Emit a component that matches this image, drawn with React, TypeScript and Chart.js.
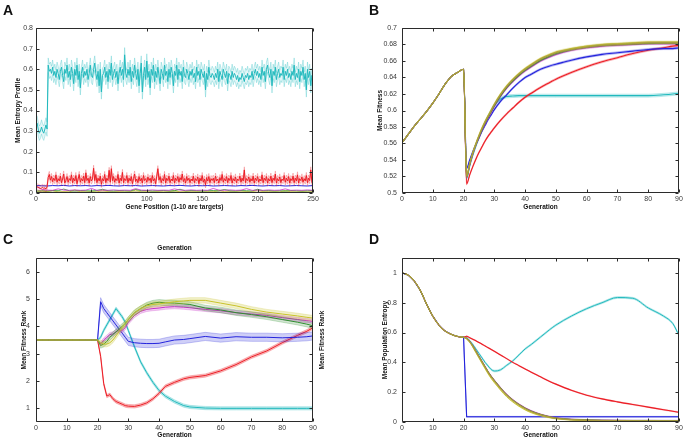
import React, { useEffect, useRef } from 'react';
import { Chart, registerables } from 'chart.js';

Chart.register(...registerables);

const FONT = "'Liberation Sans', Arial, Helvetica, sans-serif";
const TICK_COLOR = '#3a3a3a';
const TITLE_COLOR = '#111111';

const CYAN = '#21b9bd';
const RED = '#ec1d25';
const BLUE = '#2323dc';
const GREEN = '#2f8f2f';
const MAGENTA = '#c832c8';
const YELLOW = '#c8c22c';
const OLIVE = '#a89a40';

// ---------------- Panel A: entropy profile by gene position ----------------
const genePositions = Array.from({ length: 250 }, (_, i) => i + 1);
const lowGenePositions = [1, 5, 10, 15, 20, 25, 30, 35, 40, 45, 50, 55, 60, 65, 70, 75, 80, 85, 90, 95, 100,
  105, 110, 115, 120, 125, 130, 135, 140, 145, 150, 155, 160, 165, 170, 175, 180, 185, 190, 195, 200,
  205, 210, 215, 220, 225, 230, 235, 240, 245, 250];

const entropyCyan = [
  0.34, 0.31, 0.29, 0.30, 0.32, 0.30, 0.29, 0.31, 0.33, 0.31,
  0.62, 0.59, 0.60, 0.58, 0.61, 0.57, 0.59, 0.56, 0.60, 0.58,
  0.55, 0.59, 0.61, 0.57, 0.54, 0.60, 0.58, 0.62, 0.56, 0.59,
  0.55, 0.61, 0.58, 0.53, 0.60, 0.57, 0.62, 0.55, 0.59, 0.51,
  0.58, 0.61, 0.56, 0.59, 0.57, 0.60, 0.55, 0.58, 0.62, 0.57,
  0.56, 0.60, 0.63, 0.58, 0.55, 0.59, 0.52, 0.60, 0.49, 0.57,
  0.58, 0.61, 0.56, 0.59, 0.54, 0.60, 0.57, 0.63, 0.55, 0.58,
  0.60, 0.56, 0.59, 0.53, 0.58, 0.61, 0.57, 0.60, 0.55, 0.67,
  0.58, 0.56, 0.60, 0.57, 0.61, 0.54, 0.59, 0.56, 0.62, 0.58,
  0.55, 0.60, 0.52, 0.58, 0.63, 0.49, 0.57, 0.61, 0.55, 0.64,
  0.56, 0.59, 0.51, 0.60, 0.57, 0.62, 0.54, 0.59, 0.56, 0.61,
  0.57, 0.53, 0.60, 0.58, 0.55, 0.62, 0.57, 0.59, 0.54, 0.60,
  0.56, 0.61, 0.58, 0.52, 0.59, 0.57, 0.62, 0.55, 0.60, 0.57,
  0.59, 0.54, 0.61, 0.57, 0.56, 0.60, 0.58, 0.55, 0.59, 0.57,
  0.60, 0.56, 0.58, 0.54, 0.61, 0.57, 0.59, 0.55, 0.60, 0.58,
  0.56, 0.59, 0.50, 0.58, 0.55, 0.61, 0.57, 0.56, 0.58, 0.57,
  0.55, 0.58, 0.56, 0.60, 0.54, 0.59, 0.57, 0.55, 0.60, 0.58,
  0.56, 0.59, 0.53, 0.58, 0.57, 0.55, 0.59, 0.56, 0.58, 0.57,
  0.55, 0.57, 0.54, 0.56, 0.55, 0.58, 0.56, 0.54, 0.57, 0.56,
  0.58, 0.55, 0.57, 0.56, 0.59, 0.55, 0.58, 0.60, 0.57, 0.59,
  0.56, 0.58, 0.55, 0.61, 0.57, 0.59, 0.54, 0.60, 0.62, 0.58,
  0.56, 0.60, 0.52, 0.59, 0.57, 0.61, 0.55, 0.58, 0.60, 0.56,
  0.58, 0.57, 0.61, 0.55, 0.59, 0.57, 0.60, 0.56, 0.58, 0.55,
  0.59, 0.57, 0.62, 0.55, 0.58, 0.56, 0.60, 0.54, 0.59, 0.57,
  0.61, 0.55, 0.58, 0.50, 0.60, 0.56, 0.59, 0.52, 0.57, 0.55,
];

const entropyRed = [
  0.030, 0.028, 0.025, 0.022, 0.024, 0.028, 0.022, 0.025, 0.020, 0.030,
  0.075, 0.090, 0.062, 0.080, 0.055, 0.072, 0.060, 0.088, 0.052, 0.070,
  0.058, 0.082, 0.050, 0.068, 0.092, 0.048, 0.062, 0.080, 0.052, 0.070,
  0.060, 0.088, 0.050, 0.072, 0.058, 0.085, 0.045, 0.068, 0.090, 0.052,
  0.070, 0.058, 0.082, 0.050, 0.098, 0.060, 0.072, 0.048, 0.080, 0.058,
  0.068, 0.120, 0.060, 0.090, 0.050, 0.072, 0.058, 0.082, 0.042, 0.070,
  0.058, 0.090, 0.050, 0.072, 0.060, 0.110, 0.052, 0.118, 0.060, 0.080,
  0.052, 0.070, 0.060, 0.090, 0.048, 0.072, 0.058, 0.100, 0.050, 0.070,
  0.060, 0.085, 0.050, 0.072, 0.058, 0.080, 0.045, 0.070, 0.092, 0.055,
  0.068, 0.050, 0.080, 0.058, 0.072, 0.048, 0.085, 0.060, 0.070, 0.052,
  0.078, 0.060, 0.072, 0.050, 0.085, 0.058, 0.070, 0.045, 0.082, 0.118,
  0.062, 0.080, 0.050, 0.070, 0.058, 0.090, 0.048, 0.072, 0.060, 0.082,
  0.050, 0.068, 0.058, 0.085, 0.048, 0.072, 0.060, 0.080, 0.052, 0.075,
  0.062, 0.092, 0.055, 0.070, 0.048, 0.080, 0.060, 0.072, 0.050, 0.068,
  0.058, 0.082, 0.050, 0.070, 0.060, 0.078, 0.045, 0.072, 0.058, 0.085,
  0.052, 0.068, 0.040, 0.075, 0.058, 0.080, 0.050, 0.070, 0.060, 0.072,
  0.050, 0.082, 0.058, 0.068, 0.048, 0.075, 0.060, 0.090, 0.052, 0.070,
  0.058, 0.080, 0.050, 0.072, 0.060, 0.085, 0.048, 0.070, 0.058, 0.078,
  0.050, 0.068, 0.060, 0.082, 0.052, 0.072, 0.058, 0.112, 0.050, 0.070,
  0.060, 0.078, 0.052, 0.070, 0.058, 0.082, 0.048, 0.072, 0.060, 0.080,
  0.052, 0.068, 0.058, 0.088, 0.050, 0.072, 0.060, 0.080, 0.048, 0.070,
  0.058, 0.082, 0.050, 0.072, 0.060, 0.092, 0.048, 0.070, 0.058, 0.078,
  0.050, 0.068, 0.060, 0.085, 0.052, 0.072, 0.058, 0.080, 0.048, 0.070,
  0.060, 0.082, 0.050, 0.072, 0.058, 0.088, 0.048, 0.070, 0.060, 0.078,
  0.052, 0.070, 0.058, 0.085, 0.050, 0.072, 0.060, 0.112, 0.052, 0.040,
];

const entropyBlue = [
  0.036, 0.035, 0.034, 0.036, 0.035, 0.037, 0.034, 0.036, 0.035, 0.036,
  0.034, 0.036, 0.035, 0.037, 0.035, 0.034, 0.036, 0.035, 0.036, 0.034,
  0.035, 0.036, 0.035, 0.034, 0.036, 0.035, 0.037, 0.035, 0.034, 0.036,
  0.035, 0.036, 0.034, 0.035, 0.036, 0.035, 0.034, 0.036, 0.035, 0.037,
  0.035, 0.034, 0.036, 0.035, 0.036, 0.034, 0.035, 0.036, 0.035, 0.034,
  0.036,
];
const entropyMagenta = [
  0.030, 0.018, 0.014, 0.013, 0.020, 0.014, 0.013, 0.015, 0.013, 0.014,
  0.022, 0.013, 0.014, 0.013, 0.015, 0.013, 0.014, 0.013, 0.021, 0.014,
  0.013, 0.015, 0.013, 0.014, 0.013, 0.020, 0.014, 0.013, 0.015, 0.013,
  0.014, 0.013, 0.022, 0.014, 0.013, 0.015, 0.013, 0.014, 0.021, 0.013,
  0.014, 0.013, 0.015, 0.013, 0.014, 0.020, 0.013, 0.014, 0.013, 0.015,
  0.013,
];
const entropyGreen = [
  0.010, 0.011, 0.010, 0.012, 0.011, 0.019, 0.011, 0.010, 0.012, 0.011,
  0.010, 0.012, 0.018, 0.011, 0.010, 0.012, 0.011, 0.010, 0.017, 0.011,
  0.012, 0.010, 0.011, 0.012, 0.010, 0.011, 0.018, 0.010, 0.012, 0.011,
  0.010, 0.011, 0.012, 0.010, 0.017, 0.011, 0.010, 0.012, 0.011, 0.010,
  0.018, 0.011, 0.012, 0.010, 0.011, 0.010, 0.012, 0.011, 0.010, 0.011,
  0.012,
];
const entropyYellow = [
  0.006, 0.005, 0.006, 0.012, 0.005, 0.006, 0.005, 0.015, 0.006, 0.005,
  0.006, 0.005, 0.013, 0.006, 0.005, 0.006, 0.005, 0.006, 0.014, 0.005,
  0.006, 0.005, 0.006, 0.005, 0.006, 0.012, 0.005, 0.006, 0.005, 0.006,
  0.005, 0.006, 0.005, 0.013, 0.006, 0.005, 0.006, 0.005, 0.006, 0.005,
  0.014, 0.006, 0.005, 0.006, 0.005, 0.012, 0.006, 0.005, 0.006, 0.005,
  0.006,
];
const entropyOlive = [
  0.004, 0.004, 0.005, 0.004, 0.004, 0.005, 0.004, 0.004, 0.005, 0.004,
  0.004, 0.004, 0.005, 0.004, 0.004, 0.005, 0.004, 0.004, 0.005, 0.004,
  0.004, 0.004, 0.005, 0.004, 0.004, 0.005, 0.004, 0.004, 0.005, 0.004,
  0.004, 0.004, 0.005, 0.004, 0.004, 0.005, 0.004, 0.004, 0.005, 0.004,
  0.004, 0.004, 0.005, 0.004, 0.004, 0.005, 0.004, 0.004, 0.005, 0.004,
  0.004,
];
const entropyBandCyan = 0.035;
const entropyBandRed = 0.015;

const geneTicks = [0, 50, 100, 150, 200, 250];
const entropyTicks = [0, 0.1, 0.2, 0.3, 0.4, 0.5, 0.6, 0.7, 0.8];

// ---------------- Generations (panels B, C, D) ----------------
const generations = [0, 2, 4, 6, 8, 10, 12, 14, 16, 18, 20,
  21, 22, 23, 24, 25, 26, 27, 28, 29, 30, 32, 34, 36, 38, 40, 42, 45, 48, 50,
  55, 60, 65, 70, 75, 80, 85, 88, 90];
const generationTicks = [0, 10, 20, 30, 40, 50, 60, 70, 80, 90];
const bandStartGeneration = 20;

// ---------------- Panel B: mean fitness ----------------
const fitnessEarly = [0.561, 0.571, 0.581, 0.590, 0.599, 0.609, 0.620, 0.632, 0.641, 0.646, 0.650];
const fitnessCyanLate = [0.518, 0.533, 0.546, 0.557, 0.567, 0.576, 0.585, 0.593, 0.600, 0.606, 0.614, 0.617, 0.6175, 0.618, 0.618, 0.618, 0.618, 0.618, 0.618, 0.618, 0.618, 0.618, 0.618, 0.618, 0.618, 0.619, 0.620, 0.621];
const fitnessRedLate = [0.511, 0.522, 0.532, 0.541, 0.549, 0.556, 0.563, 0.569, 0.574, 0.579, 0.588, 0.596, 0.603, 0.610, 0.616, 0.621, 0.628, 0.634, 0.638, 0.646, 0.653, 0.659, 0.664, 0.669, 0.673, 0.676, 0.678, 0.679];
const fitnessBlueLate = [0.530, 0.540, 0.550, 0.559, 0.567, 0.575, 0.582, 0.589, 0.595, 0.601, 0.611, 0.619, 0.627, 0.634, 0.640, 0.644, 0.650, 0.654, 0.656, 0.661, 0.665, 0.668, 0.670, 0.672, 0.674, 0.675, 0.675, 0.676];
const fitnessMagentaLate = [0.519, 0.534, 0.547, 0.558, 0.567, 0.576, 0.584, 0.591, 0.598, 0.605, 0.617, 0.627, 0.635, 0.642, 0.648, 0.653, 0.660, 0.665, 0.668, 0.673, 0.676, 0.678, 0.679, 0.680, 0.681, 0.681, 0.681, 0.681];
const fitnessGreenLate = [0.520, 0.535, 0.548, 0.559, 0.568, 0.577, 0.585, 0.592, 0.599, 0.606, 0.618, 0.628, 0.636, 0.643, 0.649, 0.654, 0.661, 0.666, 0.669, 0.674, 0.677, 0.679, 0.680, 0.681, 0.6815, 0.682, 0.682, 0.682];
const fitnessYellowLate = [0.521, 0.536, 0.549, 0.560, 0.570, 0.579, 0.587, 0.594, 0.601, 0.608, 0.620, 0.630, 0.638, 0.645, 0.651, 0.656, 0.663, 0.668, 0.671, 0.675, 0.678, 0.680, 0.681, 0.682, 0.683, 0.683, 0.683, 0.683];
const fitnessOliveLate = [0.520, 0.535, 0.548, 0.559, 0.569, 0.578, 0.586, 0.593, 0.600, 0.607, 0.619, 0.629, 0.637, 0.644, 0.650, 0.655, 0.662, 0.667, 0.670, 0.674, 0.677, 0.679, 0.680, 0.681, 0.682, 0.682, 0.682, 0.682];
const fitnessBand = 0.0012;
const fitnessTicks = [0.5, 0.52, 0.54, 0.56, 0.58, 0.6, 0.62, 0.64, 0.66, 0.68, 0.7];

// ---------------- Panel C: mean fitness rank ----------------
const rankEarly = [3.5, 3.5, 3.5, 3.5, 3.5, 3.5, 3.5, 3.5, 3.5, 3.5, 3.5];
const rankBlueLate = [4.9, 4.65, 4.5, 4.35, 4.2, 4.05, 3.9, 3.75, 3.6, 3.45, 3.4, 3.38, 3.37, 3.37, 3.38, 3.43, 3.5, 3.52, 3.55, 3.63, 3.57, 3.62, 3.6, 3.6, 3.58, 3.6, 3.62, 3.65];
const rankCyanLate = [3.6, 3.85, 4.05, 4.25, 4.45, 4.65, 4.5, 4.35, 4.15, 3.85, 3.25, 2.7, 2.3, 1.95, 1.65, 1.45, 1.25, 1.1, 1.05, 1.01, 1.0, 1.0, 1.0, 1.0, 1.0, 1.0, 1.0, 1.0];
const rankRedLate = [2.9, 1.9, 1.45, 1.5, 1.35, 1.25, 1.2, 1.15, 1.1, 1.08, 1.07, 1.12, 1.2, 1.35, 1.55, 1.8, 1.95, 2.08, 2.13, 2.2, 2.37, 2.6, 2.88, 3.1, 3.4, 3.67, 3.82, 3.95];
const rankGreenLate = [3.3, 3.35, 3.45, 3.6, 3.7, 3.8, 3.9, 4.0, 4.1, 4.25, 4.5, 4.65, 4.78, 4.85, 4.88, 4.86, 4.85, 4.82, 4.8, 4.67, 4.6, 4.5, 4.43, 4.35, 4.25, 4.15, 4.08, 4.02];
const rankYellowLate = [3.4, 3.35, 3.35, 3.4, 3.5, 3.65, 3.8, 3.95, 4.1, 4.25, 4.5, 4.65, 4.75, 4.8, 4.82, 4.85, 4.9, 4.93, 4.95, 4.95, 4.85, 4.75, 4.62, 4.52, 4.45, 4.38, 4.33, 4.3];
const rankMagentaLate = [3.35, 3.5, 3.6, 3.7, 3.72, 3.8, 3.85, 3.85, 3.95, 4.15, 4.4, 4.55, 4.62, 4.65, 4.67, 4.7, 4.72, 4.7, 4.68, 4.62, 4.57, 4.5, 4.45, 4.4, 4.32, 4.25, 4.21, 4.18];
const rankBandBlue = 0.15;
const rankBandWide = 0.1;
const rankBandNarrow = 0.06;
const rankTicks = [1, 2, 3, 4, 5, 6];

// ---------------- Panel D: mean population entropy ----------------
const popEntropyEarly = [1.0, 0.985, 0.945, 0.88, 0.79, 0.71, 0.65, 0.61, 0.588, 0.574, 0.568];
const popBlueLate = [0.035, 0.035, 0.035, 0.035, 0.035, 0.035, 0.035, 0.035, 0.035, 0.035, 0.035, 0.035, 0.035, 0.035, 0.035, 0.035, 0.035, 0.035, 0.035, 0.035, 0.035, 0.035, 0.035, 0.035, 0.035, 0.035, 0.035, 0.035];
const popRedLate = [0.575, 0.565, 0.555, 0.545, 0.533, 0.522, 0.51, 0.498, 0.486, 0.474, 0.45, 0.425, 0.4, 0.378, 0.356, 0.334, 0.303, 0.272, 0.254, 0.213, 0.18, 0.155, 0.135, 0.117, 0.1, 0.082, 0.072, 0.065];
const popCyanLate = [0.565, 0.545, 0.52, 0.49, 0.46, 0.43, 0.4, 0.375, 0.352, 0.342, 0.35, 0.38, 0.41, 0.45, 0.49, 0.52, 0.57, 0.62, 0.65, 0.71, 0.76, 0.8, 0.835, 0.83, 0.765, 0.71, 0.66, 0.58];
const popGreenLate = [0.56, 0.54, 0.51, 0.475, 0.44, 0.405, 0.37, 0.335, 0.305, 0.278, 0.228, 0.183, 0.147, 0.117, 0.092, 0.072, 0.05, 0.034, 0.026, 0.017, 0.013, 0.011, 0.01, 0.009, 0.009, 0.008, 0.008, 0.008];
const popMagentaLate = [0.562, 0.542, 0.513, 0.478, 0.443, 0.408, 0.373, 0.338, 0.308, 0.281, 0.231, 0.186, 0.15, 0.12, 0.095, 0.075, 0.052, 0.036, 0.028, 0.018, 0.014, 0.012, 0.011, 0.01, 0.01, 0.009, 0.009, 0.009];
const popYellowLate = [0.558, 0.535, 0.503, 0.466, 0.43, 0.394, 0.358, 0.323, 0.292, 0.265, 0.215, 0.17, 0.135, 0.106, 0.082, 0.063, 0.043, 0.029, 0.022, 0.014, 0.01, 0.008, 0.007, 0.006, 0.006, 0.005, 0.005, 0.005];
const popOliveLate = [0.56, 0.539, 0.509, 0.473, 0.438, 0.403, 0.368, 0.333, 0.303, 0.276, 0.226, 0.181, 0.145, 0.115, 0.09, 0.07, 0.049, 0.033, 0.025, 0.016, 0.012, 0.01, 0.009, 0.008, 0.008, 0.007, 0.007, 0.007];
const popBandCyan = 0.006;
const popBand = 0.003;
const popEntropyTicks = [0, 0.2, 0.4, 0.6, 0.8, 1];

// ---------------- helpers ----------------
function rgba(hex: string, a: number) {
  const n = parseInt(hex.slice(1), 16);
  return `rgba(${(n >> 16) & 255},${(n >> 8) & 255},${n & 255},${a})`;
}

function series(xs: number[], ys: number[], color: string, width = 1, smooth = false) {
  return {
    data: xs.map((x, i) => ({ x, y: ys[i] })),
    borderColor: color,
    borderWidth: width,
    pointRadius: 0,
    fill: false,
    cubicInterpolationMode: smooth ? 'monotone' : 'default',
    tension: 0,
  };
}

function banded(xs: number[], ys: number[], se: number, color: string, from: number, opts: any = {}) {
  const smooth = !!opts.smooth;
  const fillA = opts.fillAlpha ?? 0.22;
  const edgeA = opts.edgeAlpha ?? 0.35;
  const up = xs.map((x, i) => (x > from ? ys[i] + se : ys[i]));
  const lo = xs.map((x, i) => (x > from ? ys[i] - se : ys[i]));
  const upper = { ...series(xs, up, rgba(color, edgeA), opts.edgeWidth ?? 0.7, smooth) };
  const lower = {
    ...series(xs, lo, rgba(color, edgeA), opts.edgeWidth ?? 0.7, smooth),
    fill: '-1',
    backgroundColor: rgba(color, fillA),
  };
  return [upper, lower, series(xs, ys, color, opts.width ?? 1, smooth)];
}

const decorPlugin = {
  id: 'decor',
  afterDatasetsDraw(chart: any, _args: any, opts: any) {
    const { ctx, chartArea: a, scales } = chart;
    ctx.save();
    ctx.strokeStyle = '#2b2b2b';
    ctx.lineWidth = 1;
    const L = Math.round(a.left) + 0.5;
    const R = Math.round(a.right) - 0.5;
    const T = Math.round(a.top) + 0.5;
    const B = Math.round(a.bottom) - 0.5;
    ctx.beginPath();
    ctx.rect(L, T, R - L, B - T);
    ctx.stroke();
    const tl = 3;
    ctx.beginPath();
    for (const t of scales.x.ticks) {
      const px = Math.round(scales.x.getPixelForValue(t.value)) + 0.5;
      ctx.moveTo(px, B); ctx.lineTo(px, B - tl);
      ctx.moveTo(px, T); ctx.lineTo(px, T + tl);
    }
    for (const t of scales.y.ticks) {
      const py = Math.round(scales.y.getPixelForValue(t.value)) + 0.5;
      ctx.moveTo(L, py); ctx.lineTo(L + tl, py);
      ctx.moveTo(R, py); ctx.lineTo(R - tl, py);
    }
    ctx.stroke();
    ctx.restore();
  },
  afterDraw(chart: any, _args: any, opts: any) {
    const { ctx } = chart;
    for (const t of opts.texts || []) {
      ctx.save();
      ctx.fillStyle = t.color || TITLE_COLOR;
      ctx.font = t.font;
      ctx.textAlign = t.align || 'left';
      ctx.textBaseline = t.baseline || 'alphabetic';
      ctx.translate(t.x, t.y);
      if (t.rotate) ctx.rotate(t.rotate);
      ctx.fillText(t.text, 0, 0);
      ctx.restore();
    }
  },
};

function axis(kind: 'x' | 'y', o: any) {
  const isX = kind === 'x';
  return {
    type: 'linear',
    position: isX ? 'bottom' : 'left',
    min: o.min,
    max: o.max,
    afterBuildTicks: (sc: any) => { sc.ticks = o.ticks.map((v: number) => ({ value: v })); },
    afterFit: (sc: any) => { if (isX) sc.height = o.size; else sc.width = o.size; },
    grid: { display: false, drawTicks: false },
    border: { display: false },
    ticks: {
      autoSkip: false,
      maxRotation: 0,
      minRotation: 0,
      padding: o.tickPad,
      color: TICK_COLOR,
      font: { family: FONT, size: 7 },
      callback: (v: number) => String(v),
    },
    title: {
      display: true,
      text: o.title,
      color: TITLE_COLOR,
      font: { family: FONT, size: 6.5, weight: 'bold' },
      padding: isX ? { top: 0, bottom: o.titlePad } : { top: o.titlePad, bottom: 0 },
    },
  };
}

type PanelSpec = {
  left: number; top: number; w: number; h: number;
  padding: any; datasets: any[]; x: any; y: any; texts: any[];
};

function ChartPanel({ spec }: { spec: PanelSpec }) {
  const ref = useRef<HTMLCanvasElement>(null);
  useEffect(() => {
    const n = spec.datasets.length;
    const datasets = spec.datasets.map((d, i) => ({ ...d, order: n - i }));
    const chart = new Chart(ref.current as HTMLCanvasElement, {
      type: 'line',
      data: { datasets },
      options: {
        responsive: false,
        maintainAspectRatio: false,
        animation: false,
        devicePixelRatio: 1,
        events: [],
        layout: { padding: spec.padding },
        plugins: {
          legend: { display: false },
          tooltip: { enabled: false },
          decor: { texts: spec.texts },
        } as any,
        scales: { x: axis('x', spec.x), y: axis('y', spec.y) } as any,
      },
      plugins: [decorPlugin as any],
    } as any);
    return () => chart.destroy();
  }, []);
  return (
    <canvas
      ref={ref}
      width={spec.w}
      height={spec.h}
      style={{ position: 'absolute', left: spec.left, top: spec.top, width: spec.w, height: spec.h }}
    />
  );
}

const letterFont = `bold 14px ${FONT}`;
const titleFont = `bold 6.5px ${FONT}`;

function buildPanels(): PanelSpec[] {
  const g = generations;
  const noBand = -Infinity;

  const panelA: PanelSpec = {
    left: 0, top: 0, w: 343, h: 220,
    padding: { left: 0, top: 28, right: 30, bottom: 0 },
    datasets: [
      series(lowGenePositions, entropyOlive, rgba(OLIVE, 0.7), 1.5),
      series(lowGenePositions, entropyYellow, YELLOW, 0.8),
      series(lowGenePositions, entropyGreen, GREEN, 0.8),
      series(lowGenePositions, entropyMagenta, MAGENTA, 0.8),
      series(lowGenePositions, entropyBlue, BLUE, 1),
      ...banded(genePositions, entropyRed, entropyBandRed, RED, noBand, { fillAlpha: 0.15, edgeAlpha: 0.35 }),
      ...banded(genePositions, entropyCyan, entropyBandCyan, CYAN, noBand, { fillAlpha: 0.12, edgeAlpha: 0.4 }),
    ],
    x: { min: 0, max: 250, ticks: geneTicks, size: 27, tickPad: 2, title: 'Gene Position (1-10 are targets)', titlePad: 9 },
    y: { min: 0, max: 0.8, ticks: entropyTicks, size: 36, tickPad: 3, title: 'Mean Entropy Profile', titlePad: 14 },
    texts: [{ text: 'A', x: 3, y: 15, font: letterFont }],
  };

  const panelB: PanelSpec = {
    left: 343, top: 0, w: 343, h: 220,
    padding: { left: 0, top: 28, right: 7, bottom: 0 },
    datasets: [
      ...banded(g, [...fitnessEarly, ...fitnessCyanLate], fitnessBand * 1.5, CYAN, bandStartGeneration, { smooth: true, width: 1.1 }),
      ...banded(g, [...fitnessEarly, ...fitnessRedLate], fitnessBand, RED, bandStartGeneration, { smooth: true, width: 1.1 }),
      ...banded(g, [...fitnessEarly, ...fitnessBlueLate], fitnessBand, BLUE, bandStartGeneration, { smooth: true, width: 1.1 }),
      ...banded(g, [...fitnessEarly, ...fitnessMagentaLate], fitnessBand, MAGENTA, bandStartGeneration, { smooth: true, width: 1.1 }),
      ...banded(g, [...fitnessEarly, ...fitnessGreenLate], fitnessBand, GREEN, bandStartGeneration, { smooth: true, width: 1.1 }),
      ...banded(g, [...fitnessEarly, ...fitnessYellowLate], fitnessBand, YELLOW, bandStartGeneration, { smooth: true, width: 1.1 }),
      ...banded(g, [...fitnessEarly, ...fitnessOliveLate], fitnessBand, OLIVE, bandStartGeneration, { smooth: true, width: 1.1 }),
    ],
    x: { min: 0, max: 90, ticks: generationTicks, size: 27, tickPad: 2, title: 'Generation', titlePad: 9 },
    y: { min: 0.5, max: 0.7, ticks: fitnessTicks, size: 59, tickPad: 5, title: 'Mean Fitness', titlePad: 33 },
    texts: [{ text: 'B', x: 26, y: 15, font: letterFont }],
  };

  const panelC: PanelSpec = {
    left: 0, top: 220, w: 343, h: 221,
    padding: { left: 0, top: 38, right: 30, bottom: 0 },
    datasets: [
      ...banded(g, [...rankEarly, ...rankCyanLate], rankBandNarrow, CYAN, bandStartGeneration, { fillAlpha: 0.3 }),
      ...banded(g, [...rankEarly, ...rankRedLate], rankBandNarrow, RED, bandStartGeneration, { fillAlpha: 0.3 }),
      ...banded(g, [...rankEarly, ...rankBlueLate], rankBandBlue, BLUE, bandStartGeneration, { fillAlpha: 0.22 }),
      ...banded(g, [...rankEarly, ...rankMagentaLate], rankBandNarrow * 1.3, MAGENTA, bandStartGeneration, { fillAlpha: 0.25 }),
      ...banded(g, [...rankEarly, ...rankGreenLate], rankBandWide, GREEN, bandStartGeneration, { fillAlpha: 0.22 }),
      ...banded(g, [...rankEarly, ...rankYellowLate], rankBandWide, YELLOW, bandStartGeneration, { fillAlpha: 0.25 }),
    ],
    x: { min: 0, max: 90, ticks: generationTicks, size: 19, tickPad: 2, title: 'Generation', titlePad: 2 },
    y: { min: 0.5, max: 6.5, ticks: rankTicks, size: 36, tickPad: 6, title: 'Mean Fitness Rank', titlePad: 20 },
    texts: [
      { text: 'C', x: 3, y: 24, font: letterFont },
      { text: 'Generation', x: 174.5, y: 28.5, font: titleFont, align: 'center', baseline: 'middle' },
      { text: 'Mean Fitness Rank', x: 322, y: 120, font: titleFont, align: 'center', baseline: 'middle', rotate: -Math.PI / 2 },
    ],
  };

  const panelD: PanelSpec = {
    left: 343, top: 220, w: 343, h: 221,
    padding: { left: 0, top: 38, right: 7, bottom: 0 },
    datasets: [
      ...banded(g, [...popEntropyEarly, ...popCyanLate], popBandCyan, CYAN, bandStartGeneration, { smooth: true }),
      ...banded(g, [...popEntropyEarly, ...popRedLate], popBand, RED, bandStartGeneration, { smooth: true, width: 1.1 }),
      ...banded(g, [...popEntropyEarly, ...popBlueLate], popBand, BLUE, bandStartGeneration, { width: 1.1 }),
      ...banded(g, [...popEntropyEarly, ...popMagentaLate], popBand, MAGENTA, bandStartGeneration, { smooth: true }),
      ...banded(g, [...popEntropyEarly, ...popGreenLate], popBand, GREEN, bandStartGeneration, { smooth: true }),
      ...banded(g, [...popEntropyEarly, ...popYellowLate], popBand, YELLOW, bandStartGeneration, { smooth: true }),
      ...banded(g, [...popEntropyEarly, ...popOliveLate], popBand, OLIVE, bandStartGeneration, { smooth: true, width: 1.2 }),
    ],
    x: { min: 0, max: 90, ticks: generationTicks, size: 19, tickPad: 2, title: 'Generation', titlePad: 2 },
    y: { min: 0, max: 1.1, ticks: popEntropyTicks, size: 59, tickPad: 5, title: 'Mean Population Entropy', titlePad: 38 },
    texts: [{ text: 'D', x: 26, y: 24, font: letterFont }],
  };

  return [panelA, panelB, panelC, panelD];
}

export default function App() {
  const panels = buildPanels();
  return (
    <div style={{ position: 'fixed', left: 0, top: 0, width: 686, height: 441, background: '#ffffff', overflow: 'hidden' }}>
      {panels.map((p, i) => (
        <ChartPanel key={i} spec={p} />
      ))}
    </div>
  );
}
